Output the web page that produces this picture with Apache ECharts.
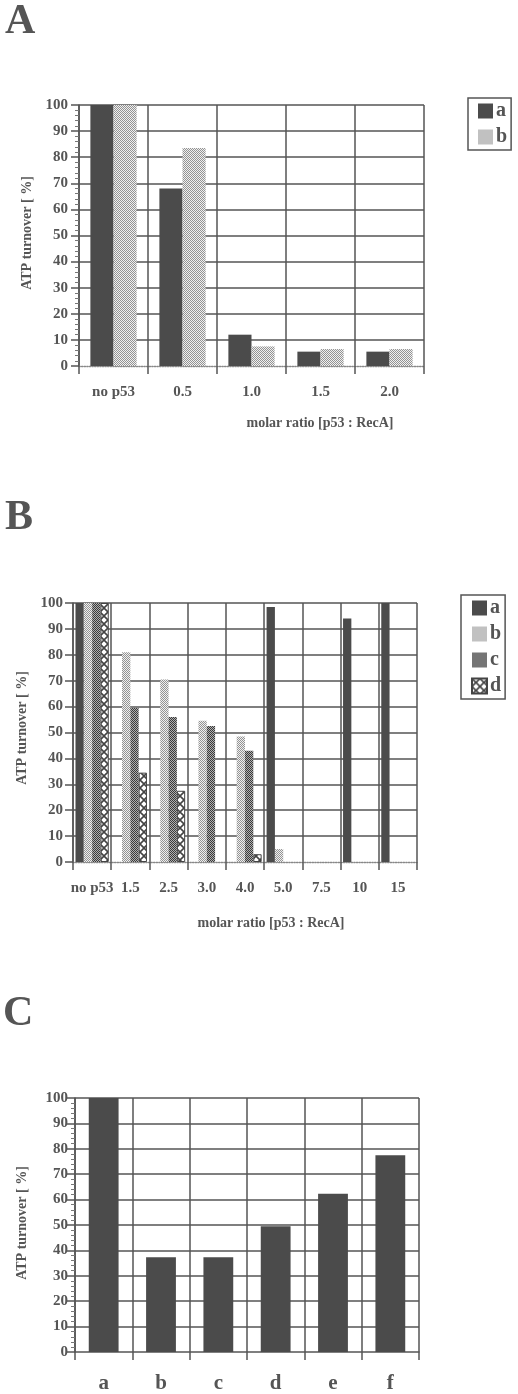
<!DOCTYPE html>
<html>
<head>
<meta charset="utf-8">
<script src="https://cdn.jsdelivr.net/npm/echarts@6/dist/echarts.min.js"></script>
<style>
html,body{margin:0;padding:0;background:#fff;}
#chart{width:518px;height:1394px;}
</style>
</head>
<body>
<div id="chart"></div>
<script>
// ---- data ----
var catsA = ['no p53', '0.5', '1.0', '1.5', '2.0'];
var aA = [100, 68, 12, 5.5, 5.5];
var bA = [100, 83.5, 7.5, 6.5, 6.5];

var catsB = ['no p53', '1.5', '2.5', '3.0', '4.0', '5.0', '7.5', '10', '15'];
var aB = [100, 0, 0, 0, 0, 98.5, 0, 94, 100];
var bB = [100, 81, 70.5, 54.5, 48.5, 5, 0, 0, 0];
var cB = [100, 59.5, 56, 52.5, 43, 0, 0, 0, 0];
var dB = [100, 34.5, 27.5, 0, 3, 0, 0, 0, 0];

var catsC = ['a', 'b', 'c', 'd', 'e', 'f'];
var valC = [100, 37.3, 37.3, 49.5, 62.3, 77.5];

// ---- styles ----
var SERIF = '"Liberation Serif","Times New Roman",serif';
var TXT = '#555';
var LINE = '#555';
var DARK = '#4b4b4b';

function pat(w, h, draw) {
  var c = document.createElement('canvas');
  c.width = w; c.height = h;
  var g = c.getContext('2d');
  draw(g);
  return { image: c, repeat: 'repeat' };
}
var patB = pat(2, 2, function (g) {
  g.fillStyle = '#f0f0f0'; g.fillRect(0, 0, 2, 2);
  g.fillStyle = '#939393'; g.fillRect(0, 0, 1, 1); g.fillRect(1, 1, 1, 1);
});
var patC = pat(2, 2, function (g) {
  g.fillStyle = '#b0b0b0'; g.fillRect(0, 0, 2, 2);
  g.fillStyle = '#3a3a3a'; g.fillRect(0, 0, 1, 1); g.fillRect(1, 1, 1, 1);
});
var patD = pat(8, 8, function (g) {
  g.fillStyle = '#ffffff'; g.fillRect(0, 0, 8, 8);
  g.strokeStyle = '#444'; g.lineWidth = 1.6;
  g.beginPath(); g.moveTo(0, 0); g.lineTo(8, 8); g.moveTo(8, 0); g.lineTo(0, 8); g.stroke();
});

// zero-height bars get no border so nothing shows at the baseline
function noZeroBorder(arr) {
  return arr.map(function (v) { return v === 0 ? { value: v, itemStyle: { borderWidth: 0 } } : v; });
}

var grids = [
  { left: 79, width: 345, top: 105, height: 261 },
  { left: 73, width: 344, top: 603, height: 259 },
  { left: 75, width: 344, top: 1098, height: 255 }
];

function xAx(i, cats, fs, margin, dotted) {
  return {
    type: 'category', gridIndex: i, data: cats,
    axisLine: { show: true, lineStyle: { color: dotted ? '#888' : LINE, width: dotted ? 1.3 : 1.5, type: dotted ? 'dotted' : 'solid' } },
    axisTick: { show: true, length: 8, lineStyle: { color: LINE, width: 1.5 } },
    axisLabel: { interval: 0, color: TXT, fontFamily: SERIF, fontWeight: 'bold', fontSize: fs, margin: margin },
    splitLine: { show: true, interval: 0, lineStyle: { color: LINE, width: 1.5 } }
  };
}
function yAx(i, margin, minor) {
  return {
    type: 'value', gridIndex: i, min: 0, max: 100, interval: 10,
    axisLine: { show: true, lineStyle: { color: LINE, width: 1.5 } },
    axisTick: { show: true, length: 8, lineStyle: { color: LINE, width: 1.5 } },
    minorTick: { show: minor, splitNumber: 5, length: 4, lineStyle: { color: '#777', width: 1 } },
    axisLabel: { color: TXT, fontFamily: SERIF, fontWeight: 'bold', fontSize: 15, margin: margin },
    splitLine: { show: true, showMinLine: false, lineStyle: { color: LINE, width: 1.5 } }
  };
}

function txt(t, x, y, fs, rot, align) {
  return {
    type: 'text', x: x, y: y, rotation: rot || 0,
    style: { text: t, font: 'bold ' + fs + 'px ' + SERIF, fill: TXT, textAlign: align || 'center', textVerticalAlign: 'middle' }
  };
}

function legend(left, top, names) {
  return {
    left: left, top: top, orient: 'vertical', data: names,
    selectedMode: false, icon: 'rect', itemWidth: 15, itemHeight: 15, itemGap: 6,
    padding: [3, 4, 3, 10], borderColor: LINE, borderWidth: 1.5,
    textStyle: { color: TXT, fontFamily: SERIF, fontWeight: 'bold', fontSize: 20, padding: [0, 0, 0, -2] }
  };
}

var option = {
  animation: false,
  backgroundColor: '#fff',
  grid: grids,
  xAxis: [xAx(0, catsA, 15, 19, true), xAx(1, catsB, 15, 19, true), xAx(2, catsC, 21, 21, false)],
  yAxis: [yAx(0, 11, true), yAx(1, 10, false), yAx(2, 7, true)],
  legend: [legend(468, 98, ['a', 'b']), legend(461, 595, ['a', 'b', 'c', 'd'])],
  series: [
    { name: 'a', type: 'bar', xAxisIndex: 0, yAxisIndex: 0, data: aA, barGap: '0%', barCategoryGap: '33%', itemStyle: { color: DARK } },
    { name: 'b', type: 'bar', xAxisIndex: 0, yAxisIndex: 0, data: bA, barGap: '0%', barCategoryGap: '33%', itemStyle: { color: patB } },
    { name: 'a', type: 'bar', xAxisIndex: 1, yAxisIndex: 1, data: aB, barGap: '0%', barCategoryGap: '13%', itemStyle: { color: DARK } },
    { name: 'b', type: 'bar', xAxisIndex: 1, yAxisIndex: 1, data: bB, barGap: '0%', barCategoryGap: '13%', itemStyle: { color: patB } },
    { name: 'c', type: 'bar', xAxisIndex: 1, yAxisIndex: 1, data: cB, barGap: '0%', barCategoryGap: '13%', itemStyle: { color: patC } },
    { name: 'd', type: 'bar', xAxisIndex: 1, yAxisIndex: 1, data: noZeroBorder(dB), barGap: '0%', barCategoryGap: '13%', itemStyle: { color: patD, borderColor: '#444', borderWidth: 1 } },
    { name: 'C', type: 'bar', xAxisIndex: 2, yAxisIndex: 2, data: valC, barCategoryGap: '48%', itemStyle: { color: DARK } }
  ],
  graphic: [
    txt('A', 5, 22, 42, 0, 'left'),
    txt('B', 5, 518, 42, 0, 'left'),
    txt('C', 3, 1014, 42, 0, 'left'),
    txt('ATP turnover [ %]', 27, 233, 14, Math.PI / 2),
    txt('ATP turnover [ %]', 22, 728, 14, Math.PI / 2),
    txt('ATP turnover [ %]', 22, 1223, 14, Math.PI / 2),
    txt('molar ratio [p53 : RecA]', 320, 423, 14),
    txt('molar ratio [p53 : RecA]', 271, 923, 14)
  ]
};

var chart = echarts.init(document.getElementById('chart'), null, { renderer: 'canvas' });
chart.setOption(option);
</script>
</body>
</html>
